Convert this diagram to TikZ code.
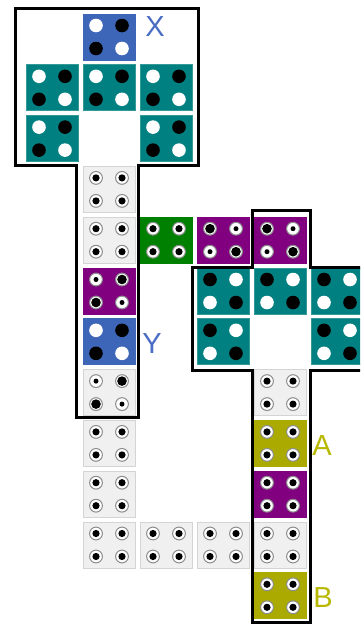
\documentclass[tikz,border=0pt]{standalone}
\usepackage{fontspec}
\setmainfont{Liberation Sans}
\definecolor{tblue}{RGB}{62,102,184}
\definecolor{tteal}{RGB}{0,128,128}
\definecolor{tgreen}{RGB}{0,128,0}
\definecolor{tpurple}{RGB}{128,0,128}
\definecolor{tolive}{RGB}{170,170,0}
\definecolor{tgray}{RGB}{240,240,240}
\definecolor{tgrayb}{RGB}{212,212,212}
\definecolor{ringgray}{RGB}{140,140,140}
\definecolor{lblue}{RGB}{74,108,196}
\definecolor{lolive}{RGB}{184,184,0}
\newcommand\dW[2]{\fill[white] (#1,#2) circle[radius=6.8pt];}
\newcommand\dK[2]{\fill[black] (#1,#2) circle[radius=6.8pt];}
\newcommand\dM[2]{\filldraw[fill=white,draw=ringgray,line width=1pt] (#1,#2) circle[radius=6.4pt]; \fill[black] (#1,#2) circle[radius=3.6pt];}
\newcommand\dL[2]{\filldraw[fill=white,draw=ringgray,line width=1pt] (#1,#2) circle[radius=6.4pt]; \fill[black] (#1,#2) circle[radius=4.8pt];}
\newcommand\dS[2]{\filldraw[fill=white,draw=ringgray,line width=1pt] (#1,#2) circle[radius=6.4pt]; \fill[black] (#1,#2) circle[radius=2.5pt];}
\newcommand\tile[8]{%
  \pgfmathsetmacro\cx{52+57*#1}%
  \pgfmathsetmacro\cy{37+50.8*#2}%
  \node[tilebox,fill=#3,draw=#4] (t#1-#2) at (\cx,\cy) {};
  \csname d#5\endcsname{\cx-13}{\cy-11.5}%
  \csname d#6\endcsname{\cx+13}{\cy-11.5}%
  \csname d#7\endcsname{\cx-13}{\cy+11.5}%
  \csname d#8\endcsname{\cx+13}{\cy+11.5}%
}
\tikzset{
  tilebox/.style={rectangle,minimum width=52pt,minimum height=46pt,inner sep=0pt,line width=0.8pt},
  outline/.style={draw=black,line width=3pt,line join=miter},
  lbl/.style={font=\fontsize{29}{29}\selectfont,inner sep=0pt}
}
\begin{document}
\begin{tikzpicture}[x=1pt,y=-1pt]
\useasboundingbox (0,0) rectangle (360,624);
\clip (0,0) rectangle (360,624);
% top group
\tile{1}{0}{tblue}{tblue}{W}{K}{K}{W}
\tile{0}{1}{tteal}{tteal!80!white}{W}{K}{K}{W}
\tile{1}{1}{tteal}{tteal!80!white}{W}{K}{K}{W}
\tile{2}{1}{tteal}{tteal!80!white}{W}{K}{K}{W}
\tile{0}{2}{tteal}{tteal!80!white}{W}{K}{K}{W}
\tile{2}{2}{tteal}{tteal!80!white}{W}{K}{K}{W}
% column 1
\tile{1}{3}{tgray}{tgrayb}{M}{M}{M}{M}
\tile{1}{4}{tgray}{tgrayb}{M}{M}{M}{M}
\tile{1}{5}{tpurple}{tpurple}{S}{L}{L}{S}
\tile{1}{6}{tblue}{tblue}{W}{K}{K}{W}
\tile{1}{7}{tgray}{tgrayb}{S}{L}{L}{S}
\tile{1}{8}{tgray}{tgrayb}{M}{M}{M}{M}
\tile{1}{9}{tgray}{tgrayb}{M}{M}{M}{M}
\tile{1}{10}{tgray}{tgrayb}{M}{M}{M}{M}
% row 4
\tile{2}{4}{tgreen}{tgreen}{M}{M}{M}{M}
\tile{3}{4}{tpurple}{tpurple}{L}{S}{S}{L}
\tile{4}{4}{tpurple}{tpurple}{L}{S}{S}{L}
% right group
\tile{3}{5}{tteal}{tteal!80!white}{K}{W}{W}{K}
\tile{4}{5}{tteal}{tteal!80!white}{K}{W}{W}{K}
\tile{5}{5}{tteal}{tteal!80!white}{K}{W}{W}{K}
\tile{3}{6}{tteal}{tteal!80!white}{K}{W}{W}{K}
\tile{5}{6}{tteal}{tteal!80!white}{K}{W}{W}{K}
% column 4
\tile{4}{7}{tgray}{tgrayb}{M}{M}{M}{M}
\tile{4}{8}{tolive}{tolive}{M}{M}{M}{M}
\tile{4}{9}{tpurple}{tpurple}{M}{M}{M}{M}
\tile{4}{10}{tgray}{tgrayb}{M}{M}{M}{M}
\tile{4}{11}{tolive}{tolive}{M}{M}{M}{M}
% row 10
\tile{2}{10}{tgray}{tgrayb}{M}{M}{M}{M}
\tile{3}{10}{tgray}{tgrayb}{M}{M}{M}{M}
% outlines
\draw[outline] (15,8) -- (198,8) -- (198,165) -- (138,165) -- (138,417) -- (76,417) -- (76,165) -- (15,165) -- cycle;
\draw[outline] (252,210) -- (310,210) -- (310,267) -- (372,267) -- (372,370) -- (310,370) -- (310,622) -- (252,622) -- (252,370) -- (192,370) -- (192,267) -- (252,267) -- cycle;
% labels
\node[lbl,text=lblue] (lx) at (155,27) {X};
\node[lbl,text=lblue] (ly) at (152,344) {Y};
\node[lbl,text=lolive] (la) at (322,446) {A};
\node[lbl,text=lolive] (lb) at (323,598) {B};
\end{tikzpicture}
\end{document}
